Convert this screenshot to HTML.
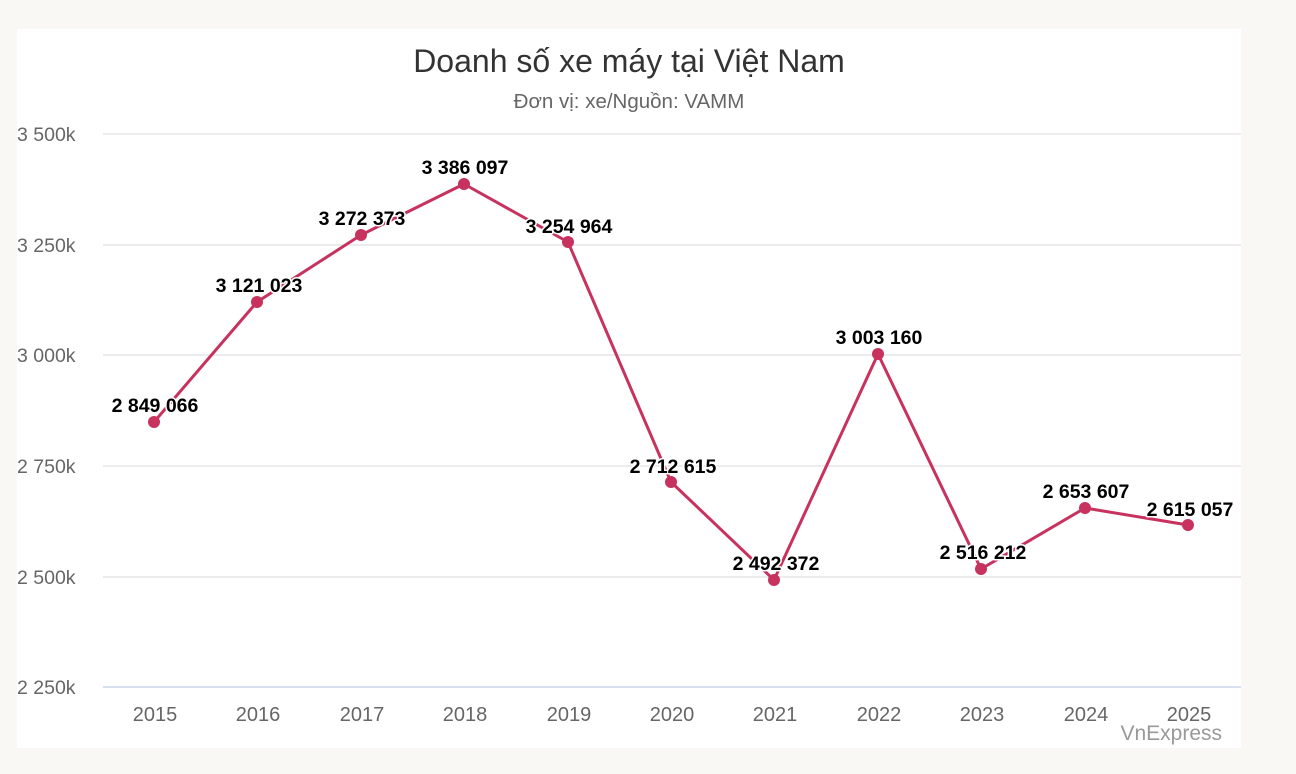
<!DOCTYPE html>
<html><head><meta charset="utf-8"><style>
body{margin:0;background:#f9f8f5;width:1296px;height:774px;overflow:hidden;font-family:"Liberation Sans",Arial,sans-serif}
</style></head><body>
<svg width="1296" height="774" xmlns="http://www.w3.org/2000/svg" style="position:absolute;left:0;top:0">
<rect x="17" y="29" width="1224" height="719" fill="#fff"/>
<text x="629" y="72" text-anchor="middle" font-size="32" fill="#333">Doanh số xe máy tại Việt Nam</text>
<text x="629" y="108" text-anchor="middle" font-size="20.5" fill="#666">Đơn vị: xe/Nguồn: VAMM</text>
<g stroke="#e6e6e6" stroke-width="1.5">
<line x1="103" x2="1241" y1="134" y2="134"/>
<line x1="103" x2="1241" y1="245" y2="245"/>
<line x1="103" x2="1241" y1="355" y2="355"/>
<line x1="103" x2="1241" y1="466" y2="466"/>
<line x1="103" x2="1241" y1="577" y2="577"/>
</g>
<line x1="103" x2="1241" y1="687" y2="687" stroke="#ccd6eb" stroke-width="1.5"/>
<g font-size="19.5" fill="#666">
<text x="17" y="141">3 500k</text>
<text x="17" y="252">3 250k</text>
<text x="17" y="362">3 000k</text>
<text x="17" y="473">2 750k</text>
<text x="17" y="584">2 500k</text>
<text x="17" y="694">2 250k</text>
</g>
<g font-size="20" fill="#666" text-anchor="middle">
<text x="155" y="721">2015</text><text x="258" y="721">2016</text><text x="362" y="721">2017</text><text x="465" y="721">2018</text><text x="569" y="721">2019</text><text x="672" y="721">2020</text><text x="775" y="721">2021</text><text x="879" y="721">2022</text><text x="982" y="721">2023</text><text x="1086" y="721">2024</text><text x="1189" y="721">2025</text>
</g>
<text x="1222" y="740" text-anchor="end" font-size="21" fill="#999">VnExpress</text>
<polyline fill="none" stroke="#c7325f" stroke-width="3" stroke-linejoin="round" points="154,422 257,302 361,235 464,184 568,242 671,482 774,580 878,354 981,569 1085,508 1188,525"/>
<g fill="#c7325f">
<circle cx="154" cy="422" r="6"/><circle cx="257" cy="302" r="6"/><circle cx="361" cy="235" r="6"/><circle cx="464" cy="184" r="6"/><circle cx="568" cy="242" r="6"/><circle cx="671" cy="482" r="6"/><circle cx="774" cy="580" r="6"/><circle cx="878" cy="354" r="6"/><circle cx="981" cy="569" r="6"/><circle cx="1085" cy="508" r="6"/><circle cx="1188" cy="525" r="6"/>
</g>
<g font-size="19.5" font-weight="bold" fill="#000" text-anchor="middle" stroke="#fff" stroke-width="3" paint-order="stroke" stroke-linejoin="round">
<text x="155" y="412">2 849 066</text>
<text x="259" y="292">3 121 023</text>
<text x="362" y="225">3 272 373</text>
<text x="465" y="174">3 386 097</text>
<text x="569" y="233">3 254 964</text>
<text x="673" y="473">2 712 615</text>
<text x="776" y="570">2 492 372</text>
<text x="879" y="344">3 003 160</text>
<text x="983" y="559">2 516 212</text>
<text x="1086" y="498">2 653 607</text>
<text x="1190" y="516">2 615 057</text>
</g>
</svg>
</body></html>
